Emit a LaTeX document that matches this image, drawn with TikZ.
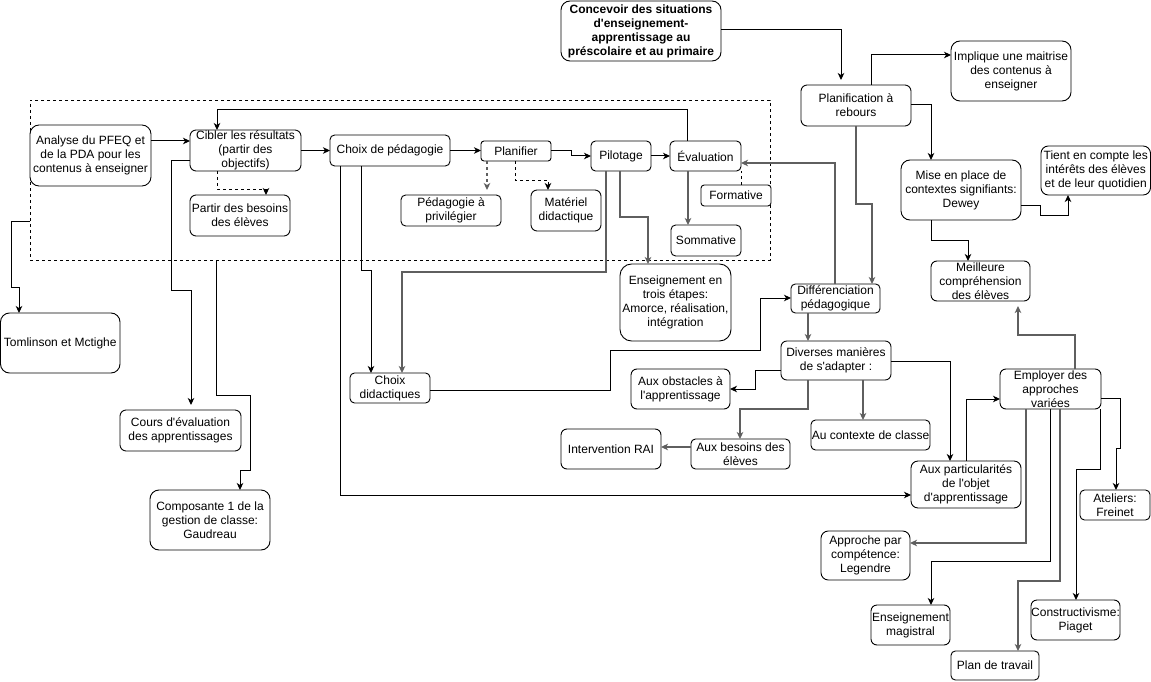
\documentclass[tikz,border=0pt]{standalone}
\usepackage{fontspec}
\setmainfont{Liberation Sans}
\usetikzlibrary{arrows.meta,calc}
\definecolor{lg}{RGB}{95,95,95}
\newcommand\ap{\textquotesingle}
\newcommand\mybox[6]{%
  \pgfmathsetmacro\bw{#4-#2}%
  \pgfmathsetmacro\bh{#5-#3}%
  \pgfmathsetmacro\br{0.15*min(\bw,\bh)}%
  \node[boxst, minimum width=\bw pt, minimum height=\bh pt, rounded corners=\br pt] (#1) at ({(#2+#4)/2},{(#3+#5)/2}) {};
  \node[txt] at (#1.center) {#6};%
}
\begin{document}
\begin{tikzpicture}[x=1pt,y=-1pt,
  boxst/.style={draw=black, fill=white, line width=0.9pt, inner sep=0pt, outer sep=0pt},
  txt/.style={align=center, inner sep=0pt, font=\fontsize{12}{14}\selectfont},
  tip/.style={-{Stealth[length=7pt,width=6.5pt,inset=2pt]}},
  conn/.style={draw=black, line width=1pt, tip},
  gconn/.style={draw=lg, line width=1.4pt, tip},
  dconn/.style={conn, dash pattern=on 3pt off 3pt},
  gdconn/.style={gconn, dash pattern=on 3pt off 3pt},
  gap/.style={shorten >=5pt}]
\useasboundingbox (0,0) rectangle (1151,682);
\fill[white] (0,0) rectangle (1151,682);

% dashed group
\node[draw=black, line width=0.8pt, dash pattern=on 3pt off 3pt, minimum width=740pt, minimum height=160pt, inner sep=0pt, outer sep=0pt] (grp) at (400,180) {};

% nodes
\mybox{ana}{30}{125}{151}{186}{Analyse du PFEQ et\\de la PDA pour les\\contenus à enseigner}
\mybox{cib}{190}{130}{301}{171}{Cibler les résultats\\(partir des\\objectifs)}
\mybox{cped}{330}{135}{450}{166}{Choix de pédagogie}
\mybox{plan}{481}{141}{551}{161}{Planifier}
\mybox{pil}{591}{141}{651}{171}{Pilotage}
\mybox{eval}{670}{141}{741}{171}{Évaluation}
\mybox{part}{190}{195}{290}{236}{Partir des besoins\\des élèves}
\mybox{pedp}{401}{195}{501}{226}{Pédagogie à\\privilégier}
\mybox{mat}{531}{190}{601}{231}{Matériel\\didactique}
\mybox{form}{701}{185}{771}{206}{Formative}
\mybox{somm}{671}{225}{741}{256}{Sommative}
\mybox{tom}{0.5}{313}{120}{373}{Tomlinson et Mctighe}
\mybox{cours}{120}{410}{241}{451}{Cours d\ap évaluation\\des apprentissages}
\mybox{comp}{150}{490}{270}{550}{Composante 1 de la\\gestion de classe:\\Gaudreau}
\mybox{cdid}{350}{373}{430}{403}{Choix\\didactiques}
\mybox{ens}{620}{264}{731}{341}{Enseignement en\\trois étapes:\\Amorce, réalisation,\\intégration}
\mybox{conc}{561}{1}{721}{61}{\bfseries Concevoir des situations\\\bfseries d\ap enseignement-\\\bfseries apprentissage au\\\bfseries préscolaire et au primaire}
\mybox{planr}{801}{85}{911}{126}{Planification à\\rebours}
\mybox{impl}{951}{41}{1071}{101}{Implique une maitrise\\des contenus à\\enseigner}
\mybox{mise}{901}{160}{1021}{220}{Mise en place de\\contextes signifiants:\\Dewey}
\mybox{tient}{1041}{146}{1150.5}{195}{Tient en compte les\\intérêts des élèves\\et de leur quotidien}
\mybox{meil}{931}{261}{1030}{301}{Meilleure\\compréhension\\des élèves}
\mybox{diff}{791}{284}{880}{313}{Différenciation\\pédagogique}
\mybox{div}{781}{341}{891}{380}{Diverses manières\\de s\ap adapter :}
\mybox{obst}{631}{369}{730}{409}{Aux obstacles à\\l\ap apprentissage}
\mybox{besoin}{691}{439}{790}{469}{Aux besoins des\\élèves}
\mybox{rai}{561}{429}{661}{469}{Intervention RAI}
\mybox{ctx}{811}{420}{930}{450}{Au contexte de classe}
\mybox{partic}{911}{461}{1021}{508}{Aux particularités\\de l\ap objet\\d\ap apprentissage}
\mybox{empl}{1000}{369}{1101}{409}{Employer des\\approches\\variées}
\mybox{atel}{1080}{490}{1150}{520}{Ateliers:\\Freinet}
\mybox{appr}{821}{531}{910}{580}{Approche par\\compétence:\\Legendre}
\mybox{magis}{871}{605}{950}{645}{Enseignement\\magistral}
\mybox{plant}{951}{651}{1039}{680}{Plan de travail}
\mybox{const}{1031}{600}{1120}{640}{Constructivisme:\\Piaget}

% connectors (left block)
\draw[conn] (ana.east |- 0,141) -- (cib.west |- 0,141);
\draw[conn] (cib.east) -- (cped.west);
\draw[conn] (cped.east) -- (cped.east -| plan.west);
\draw[conn] (plan.east) -- (plan.east -| 571,0) |- (pil.west);
\draw[conn] (pil.east) -- (eval.west);
\draw[conn] (eval.north -| 687,0) -- (687,110) -| (cib.north -| 217,0);
\draw[dconn] (cib.south -| 217,0) |- (266,189) -- (part.north -| 266,0);
\draw[conn, gap] (cib.west |- 0,160) -| (171,290) -| (cours.north -| 191,0);
\draw[conn] (grp.south -| 216,0) |- (250,395) -- (250,470) -| (comp.north -| 240,0);
\draw[conn] (grp.west |- 0,221) -| (11,287) -| (tom.north -| 19,0);
\draw[conn] (cped.south -| 340,0) |- (partic.west |- 0,495);
\draw[conn] (cped.south -| 361,0) |- (371,270) -- (cdid.north -| 371,0);
\draw[gconn] (pil.south -| 606,0) |- (402,272) -- (cdid.north -| 402,0);
\draw[gconn] (pil.south -| 620,0) |- (648,217) -- (ens.north -| 648,0);
\draw[gdconn, gap] (plan.south -| 487,0) -- (pedp.north -| 487,0);
\draw[dconn] (plan.south -| 515,0) |- (548,180) -- (mat.north -| 548,0);
\draw[gconn] (eval.south -| 688,0) -- (somm.north -| 688,0);
\draw[draw=black, line width=0.8pt, dash pattern=on 3pt off 3pt] (form.north -| 741,0) -- (eval.south -| 741,0);

% connectors (right block)
\draw[conn, gap] (conc.east |- 0,30) -| (planr.north -| 841,0);
\draw[conn] (planr.north -| 871,0) |- (impl.west |- 0,55);
\draw[conn] (planr.east |- 0,105) -| (mise.north -| 931,0);
\draw[conn] (mise.east |- 0,205) -| (1040,215) -| (tient.south -| 1068,0);
\draw[conn] (mise.south -| 931,0) |- (968,240) -- (meil.north -| 968,0);
\draw[gconn] (planr.south -| 856,0) |- (872,204) -- (diff.north -| 872,0);
\draw[gconn] (diff.north -| 835,0) |- (eval.east |- 0,163);
\draw[gconn] (diff.south -| 808,0) -- (div.north -| 808,0);
\draw[conn] (cdid.east |- 0,390) -| (610,350) -| (760,298) -- (diff.west |- 0,298);
\draw[conn] (div.west |- 0,370) -| (755,389) -- (obst.east |- 0,389);
\draw[gconn] (div.south -| 808,0) |- (740,409) -- (besoin.north -| 740,0);
\draw[gconn] (besoin.west |- 0,447) -- (rai.east |- 0,447);
\draw[gconn] (div.south -| 863,0) -- (ctx.north -| 863,0);
\draw[conn] (div.east |- 0,361) -| (partic.north -| 950,0);
\draw[conn] (partic.north -| 966,0) |- (empl.west |- 0,399);
\draw[gconn, gap] (empl.north -| 1075,0) |- (1018,335) -- (meil.south -| 1018,0);
\draw[conn] (empl.east |- 0,398) -| (1120,448) -| (atel.north -| 1116,0);
\draw[gconn] (empl.south -| 1026,0) |- (appr.east |- 0,543);
\draw[conn] (empl.south -| 1050,0) |- (931,561) -- (magis.north -| 931,0);
\draw[gconn] (empl.south -| 1060,0) |- (1018,581) -- (plant.north -| 1018,0);
\draw[conn] (empl.south -| 1100,0) |- (1076,469) -- (const.north -| 1076,0);
\end{tikzpicture}
\end{document}
